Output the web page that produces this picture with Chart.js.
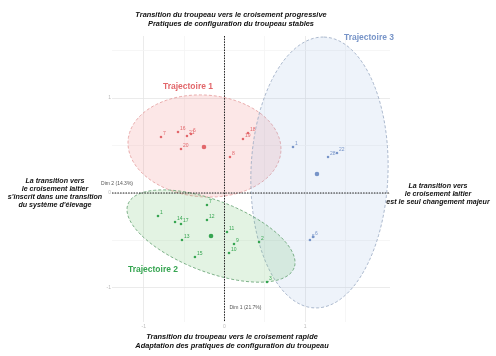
<!DOCTYPE html>
<html>
<head>
<meta charset="utf-8">
<script src="https://cdn.jsdelivr.net/npm/chart.js@4.4.1/dist/chart.umd.min.js"></script>
<style>
  html, body { margin: 0; padding: 0; background: #fff; }
  #wrap { width: 496px; height: 356px; }
</style>
</head>
<body>
<div id="wrap"><canvas id="pca" width="496" height="356"></canvas></div>
<script>
// Individuals (Dim 1, Dim 2) per trajectory
const traj1Labels = ['7', '16', '21', '6', '20', '19', '18', '8'];
const traj1X = [-0.787, -0.576, -0.465, -0.415, -0.539, 0.229, 0.291, 0.068];
const traj1Y = [0.589, 0.642, 0.600, 0.621, 0.463, 0.568, 0.632, 0.379];

const traj2Labels = ['1', '14', '17', '13', '7', '12', '11', '9', '10', '15', '2', '3'];
const traj2X = [-0.824, -0.613, -0.539, -0.527, -0.217, -0.217, 0.031, 0.118, 0.056, -0.366, 0.428, 0.527];
const traj2Y = [-0.242, -0.305, -0.326, -0.495, -0.126, -0.284, -0.411, -0.537, -0.632, -0.674, -0.516, -0.937];

const traj3Labels = ['1', '28', '22', '5', '6'];
const traj3X = [0.849, 1.283, 1.394, 1.059, 1.097];
const traj3Y = [0.484, 0.379, 0.421, -0.495, -0.463];

// group means
const centroidX = [-0.254, -0.167, 1.146];
const centroidY = [0.484, -0.453, 0.200];

// ellipses: centre x, centre y, axis u (x, y), axis v (x, y)
const ellipse1 = [-0.248, 0.495, 0.948, -0.032, 0.0, 0.537];
const ellipse2 = [-0.167, -0.453, 1.029, -0.336, -0.159, -0.351];
const ellipse3 = [1.177, 0.216, 0.056, 1.426, 0.849, -0.021];

const dim1Range = [-1.394, 2.051];
const dim2Range = [-1.358, 1.653];
const dim1Ticks = [-1, 0, 1, 2];
const dim2Ticks = [-1, 0, 1];

const trajNames = ['Trajectoire 1', 'Trajectoire 2', 'Trajectoire 3'];
const topText = ['Transition du troupeau vers le croisement progressive', 'Pratiques de configuration du troupeau stables'];
const bottomText = ['Transition du troupeau vers le croisement rapide', 'Adaptation des pratiques de configuration du troupeau'];
const leftText = ['La transition vers', 'le croisement laitier', "s'inscrit dans une transition", "du système d'élevage"];
const rightText = ['La transition vers', 'le croisement laitier', 'est le seul changement majeur'];
const dim1Title = 'Dim 1 (21.7%)';
const dim2Title = 'Dim 2 (14.3%)';

const RED = '#e2676b', GREEN = '#36a551', BLUE = '#7794c8';
const FONT = '"Liberation Sans", Arial, sans-serif';

const pts = (xs, ys) => xs.map((v, i) => ({ x: v, y: ys[i] }));
const onHalf = v => Math.abs(v * 2 - Math.round(v * 2)) < 1e-6;

const ellipseStyles = [
    { e: ellipse1, fill: 'rgba(240,120,120,0.18)', stroke: '#e39a9a' },
    { e: ellipse3, fill: 'rgba(150,180,225,0.16)', stroke: '#98a8c2' },
    { e: ellipse2, fill: 'rgba(100,190,100,0.18)', stroke: '#5f9e6d' },
];

const pcaDecor = {
    id: 'pcaDecor',
    beforeDatasetsDraw(chart) {
        const { ctx, chartArea: a, scales: { x, y } } = chart;
        ellipseStyles.forEach(s => {
            const [cx, cy, ux, uy, vx, vy] = s.e;
            ctx.save();
            ctx.beginPath();
            for (let i = 0; i <= 120; i++) {
                const t = i / 120 * Math.PI * 2;
                const px = x.getPixelForValue(cx + Math.cos(t) * ux + Math.sin(t) * vx);
                const py = y.getPixelForValue(cy + Math.cos(t) * uy + Math.sin(t) * vy);
                i ? ctx.lineTo(px, py) : ctx.moveTo(px, py);
            }
            ctx.closePath();
            ctx.fillStyle = s.fill;
            ctx.fill();
            ctx.setLineDash([3, 2]);
            ctx.lineWidth = 0.8;
            ctx.strokeStyle = s.stroke;
            ctx.stroke();
            ctx.restore();
        });
        // dotted axes through origin
        const x0 = x.getPixelForValue(0), y0 = y.getPixelForValue(0);
        ctx.save();
        ctx.setLineDash([1.5, 1.2]);
        ctx.lineWidth = 1;
        ctx.strokeStyle = '#222';
        ctx.beginPath();
        ctx.moveTo(x0, a.top); ctx.lineTo(x0, a.bottom);
        ctx.moveTo(a.left, y0); ctx.lineTo(a.right, y0);
        ctx.stroke();
        ctx.restore();
    },
    afterDatasetsDraw(chart) {
        const { ctx } = chart;
        const groups = [[0, traj1Labels, RED], [1, traj2Labels, GREEN], [2, traj3Labels, BLUE]];
        ctx.save();
        ctx.font = '5px ' + FONT;
        ctx.textBaseline = 'bottom';
        groups.forEach(([di, labels, col]) => {
            ctx.fillStyle = col;
            chart.getDatasetMeta(di).data.forEach((p, j) => ctx.fillText(labels[j], p.x + 2, p.y - 1));
        });
        ctx.restore();
    },
    afterDraw(chart) {
        const { ctx, scales: { x, y } } = chart;
        const x0 = x.getPixelForValue(0), y0 = y.getPixelForValue(0);
        ctx.save();
        ctx.textAlign = 'center';
        ctx.textBaseline = 'middle';
        ctx.fillStyle = '#111';
        ctx.font = 'italic bold 7.4px ' + FONT;
        topText.forEach((t, i) => ctx.fillText(t, 231, 15 + i * 9));
        bottomText.forEach((t, i) => ctx.fillText(t, 232, 337 + i * 9));
        ctx.font = 'italic bold 7.1px ' + FONT;
        leftText.forEach((t, i) => ctx.fillText(t, 55, 181 + i * 8));
        rightText.forEach((t, i) => ctx.fillText(t, 438, 186 + i * 8));

        ctx.font = 'bold 8.5px ' + FONT;
        ctx.fillStyle = RED;   ctx.fillText(trajNames[0], 188, 87);
        ctx.fillStyle = GREEN; ctx.fillText(trajNames[1], 153, 270);
        ctx.fillStyle = BLUE;  ctx.fillText(trajNames[2], 369, 38);

        ctx.font = '5px ' + FONT;
        ctx.fillStyle = '#555';
        ctx.textAlign = 'right';
        ctx.fillText(dim2Title, x.left + 21, y0 - 9);
        ctx.textAlign = 'left';
        ctx.fillText(dim1Title, x0 + 5, y.bottom - 14);
        ctx.restore();
    }
};

new Chart(document.getElementById('pca'), {
    type: 'scatter',
    data: {
        datasets: [
            { data: pts(traj1X, traj1Y), backgroundColor: RED, borderColor: RED, pointRadius: 1.3, borderWidth: 0 },
            { data: pts(traj2X, traj2Y), backgroundColor: GREEN, borderColor: GREEN, pointRadius: 1.3, borderWidth: 0 },
            { data: pts(traj3X, traj3Y), backgroundColor: BLUE, borderColor: BLUE, pointRadius: 1.3, borderWidth: 0 },
            { data: pts(centroidX, centroidY), backgroundColor: [RED, GREEN, BLUE], pointRadius: 2.3, borderWidth: 0 },
        ]
    },
    options: {
        responsive: false, animation: false,
        layout: { padding: { left: 102, right: 106, top: 36, bottom: 24 } },
        plugins: { legend: { display: false }, tooltip: { enabled: false } },
        scales: {
            x: {
                type: 'linear', min: dim1Range[0], max: dim1Range[1],
                afterFit: s => { s.height = 10; },
                afterBuildTicks: s => { s.ticks = s.ticks.filter(t => onHalf(t.value)); },
                border: { display: false },
                grid: { color: c => Number.isInteger(c.tick.value) ? '#e6e6e6' : '#f4f4f4', lineWidth: 0.8, drawTicks: false },
                ticks: { stepSize: 0.5, padding: 2, color: '#bbb', font: { size: 5, family: FONT },
                    callback: v => dim1Ticks.includes(v) ? String(v) : '' }
            },
            y: {
                type: 'linear', min: dim2Range[0], max: dim2Range[1],
                afterFit: s => { s.width = 10; },
                afterBuildTicks: s => { s.ticks = s.ticks.filter(t => onHalf(t.value)); },
                border: { display: false },
                grid: { color: c => Number.isInteger(c.tick.value) ? '#e6e6e6' : '#f4f4f4', lineWidth: 0.8, drawTicks: false },
                ticks: { stepSize: 0.5, padding: 1, color: '#bbb', font: { size: 5, family: FONT },
                    callback: v => dim2Ticks.includes(v) ? String(v) : '' }
            }
        }
    },
    plugins: [pcaDecor]
});
</script>
</body>
</html>
